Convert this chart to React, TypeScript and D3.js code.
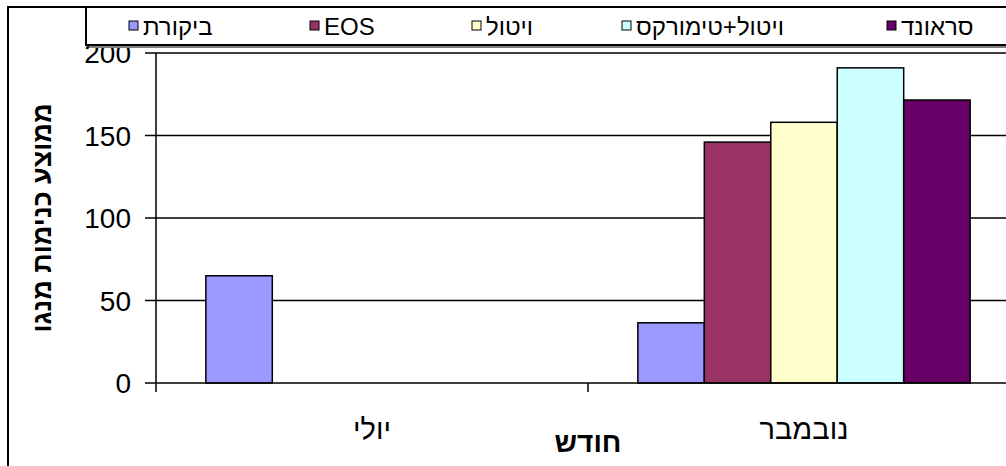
import React from "react";
import * as d3 from "d3";

const months = ["יולי", "נובמבר"];
const seriesNames = ["ביקורת", "EOS", "ויטול", "ויטול+טימורקס", "סראונד"];
const seriesColors = ["#9999FF", "#993366", "#FFFFCC", "#CCFFFF", "#660066"];
// average mango scale counts per month, one array per treatment
const control = [65, 36.5];
const eos = [0, 146];
const vitol = [0, 158];
const vitolTimorex = [0, 191];
const sraund = [0, 171.5];
const yTicks = [0, 50, 100, 150, 200];

const seriesValues = [control, eos, vitol, vitolTimorex, sraund];

const W = 1006;
const H = 466;
const plotLeft = 156;
const plotTop = 53;
const plotBottom = 383;
const plotRight = 1006;
const catWidth = 432;
const font = "'Liberation Sans', Arial, sans-serif";

export default function App() {
  const x0 = d3
    .scaleBand<string>()
    .domain(months)
    .range([plotLeft, plotLeft + catWidth * months.length])
    .paddingInner(0)
    .paddingOuter(0);
  const x1 = d3
    .scaleBand<string>()
    .domain(seriesNames)
    .range([0, x0.bandwidth()])
    .paddingInner(0)
    .paddingOuter(0.75);
  const y = d3.scaleLinear().domain([0, 200]).range([plotBottom, plotTop]);

  const legendX = [129, 310, 472, 622, 887];

  return (
    <svg
      width={W}
      height={H}
      style={{ position: "absolute", left: 0, top: 0, background: "#fff" }}
      fontFamily={font}
    >
      <rect x={0} y={0} width={W} height={H} fill="#fff" />
      {/* chart area border */}
      <rect x={8} y={7} width={W + 20} height={H + 20} fill="none" stroke="#000" strokeWidth={2} />

      {/* gridlines */}
      {yTicks.filter((t) => t > 0).map((t) => (
        <line key={t} x1={plotLeft} x2={plotRight} y1={y(t)} y2={y(t)} stroke="#000" strokeWidth={1.5} />
      ))}

      {/* bars */}
      {months.map((m, mi) => (
        <g key={m} transform={`translate(${x0(m)},0)`}>
          {seriesNames.map((s, si) => {
            const v = seriesValues[si][mi];
            if (!v) return null;
            return (
              <rect
                key={s}
                x={x1(s)}
                y={y(v)}
                width={x1.bandwidth()}
                height={y(0) - y(v)}
                fill={seriesColors[si]}
                stroke="#000"
                strokeWidth={1.5}
              />
            );
          })}
        </g>
      ))}

      {/* axes */}
      <line x1={plotLeft} x2={plotRight} y1={y(0)} y2={y(0)} stroke="#000" strokeWidth={1.5} />
      <line x1={plotLeft} x2={plotLeft} y1={plotTop} y2={y(0) + 9} stroke="#000" strokeWidth={1.5} />
      {yTicks.map((t) => (
        <g key={t}>
          <line x1={plotLeft - 11} x2={plotLeft} y1={y(t)} y2={y(t)} stroke="#000" strokeWidth={1.5} />
          <text x={131} y={y(t)} dy="0.36em" textAnchor="end" fontSize={28} fill="#000">
            {t}
          </text>
        </g>
      ))}
      {months.map((m) => (
        <g key={m}>
          <line
            x1={(x0(m) as number) + x0.bandwidth()}
            x2={(x0(m) as number) + x0.bandwidth()}
            y1={y(0)}
            y2={y(0) + 9}
            stroke="#000"
            strokeWidth={1.5}
          />
          <text
            x={(x0(m) as number) + x0.bandwidth() / 2}
            y={439}
            textAnchor="middle"
            fontSize={29}
            fill="#000"
          >
            {m}
          </text>
        </g>
      ))}

      {/* axis titles */}
      <text x={588} y={452} textAnchor="middle" fontSize={28} fontWeight="bold" fill="#000">
        חודש
      </text>
      <text
        transform={`translate(51,${(plotTop + plotBottom) / 2}) rotate(-90)`}
        textAnchor="middle"
        fontSize={27}
        fontWeight="bold"
        fill="#000"
      >
        ממוצע כנימות מנגו
      </text>

      {/* legend */}
      <rect x={89} y={10} width={W} height={38} fill="#808080" />
      <rect x={86} y={7} width={W} height={38} fill="#fff" stroke="#000" strokeWidth={2} />
      {seriesNames.map((s, i) => (
        <g key={s}>
          <rect x={legendX[i]} y={21} width={9} height={9} fill={seriesColors[i]} stroke="#000" strokeWidth={1} />
          <text x={legendX[i] + 14} y={26} dy="0.36em" fontSize={24} fill="#000" direction="rtl" textAnchor="end">
            {s}
          </text>
        </g>
      ))}
    </svg>
  );
}
